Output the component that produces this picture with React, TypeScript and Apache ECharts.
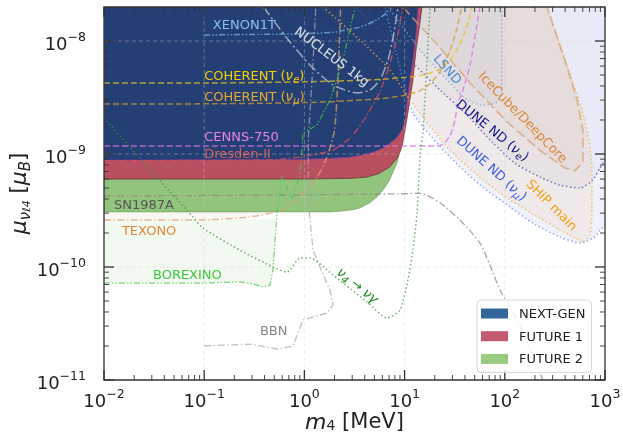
import React, { useEffect, useRef } from 'react';
import * as echarts from 'echarts';

const F = 'DejaVu Sans';
const X_MIN = 0.01, X_MAX = 1000, Y_MIN = 1e-11, Y_MAX = 2e-8;
const xMajor = [0.01, 0.1, 1, 10, 100, 1000];
const yMajor = [1e-11, 1e-10, 1e-9, 1e-8];

// sensitivity bands (mass MeV, magnetic moment muB)
const nextGen = [[0.01, 8.85e-10], [0.3, 8.9e-10], [1, 9.0e-10], [2, 9.2e-10], [2.85, 9.4e-10], [4, 9.9e-10], [5, 1.05e-9], [6.1, 1.13e-9], [7.2, 1.25e-9], [8.4, 1.41e-9], [9.4, 1.63e-9], [10.1, 2.0e-9], [10.6, 3.0e-9], [11.3, 4.5e-9], [12.1, 6.8e-9], [12.9, 1.1e-8], [13.6, 2e-8], [0.01, 2e-8]];
const future1 = [[0.01, 6.0e-10], [1, 6.0e-10], [3, 6.1e-10], [4.2, 6.25e-10], [5.5, 6.7e-10], [7.1, 7.67e-10], [8.6, 9.4e-10], [9.5, 1.2e-9], [10.1, 1.63e-9], [10.7, 2.2e-9], [11.3, 3.0e-9], [12.1, 4.5e-9], [13, 8.3e-9], [14, 1.3e-8], [14.9, 2e-8], [0.01, 2e-8]];
const future2 = [[0.01, 3.07e-10], [1.93, 3.07e-10], [3.0, 3.2e-10], [3.6, 3.33e-10], [4.5, 3.7e-10], [5.3, 4.16e-10], [6.2, 4.9e-10], [7.1, 5.9e-10], [8.4, 8.3e-10], [9.4, 1.25e-9], [10.0, 1.8e-9], [10.6, 3.0e-9], [11.5, 5.0e-9], [12.4, 1.0e-8], [13.9, 2e-8], [0.01, 2e-8]];

// existing limits / projections
const duneNuMu = [[6.4, 2e-8], [8.6, 6.8e-9], [12.1, 2.3e-9], [28.4, 9.4e-10], [60, 5.1e-10], [113, 3.4e-10], [190, 2.45e-10], [356, 1.84e-10], [564, 1.63e-10], [760, 1.8e-10], [890, 2.1e-10], [1000, 2.35e-10]];
const duneNuMuCorner = [[1000, 2e-8]];
const duneNuE = [[3.2, 2e-8], [6.37, 1.13e-8], [12.7, 6.1e-9], [22.6, 3.68e-9], [42, 2.21e-9], [76.3, 1.25e-9], [126, 8.3e-10], [224, 6.25e-10], [356, 5.3e-10], [564, 5.0e-10], [741, 5.8e-10], [891, 7.5e-10], [1000, 8.85e-10]];
const duneNuECorner = [[1000, 2e-8]];
const ship = [[1.53, 2e-8], [3.6, 1.02e-8], [7.2, 5.5e-9], [11.3, 3.0e-9], [28.4, 1.08e-9], [60.6, 5.9e-10], [113, 3.92e-10], [224, 2.71e-10], [356, 2.12e-10], [502, 1.81e-10], [603, 1.66e-10], [708, 1.92e-10], [741, 3.19e-10], [741, 7.2e-10], [692, 1.33e-9], [589, 2.45e-9], [469, 4.52e-9], [356, 9.2e-9], [264, 2e-8]];
const iceCube = [[9.6, 2e-8], [22.6, 8.7e-9], [45, 4.25e-9], [108, 1.88e-9], [224, 1.08e-9], [399, 7.5e-10], [502, 7.1e-10], [603, 8.5e-10], [603, 1.63e-9], [526, 3.0e-9], [428, 5.5e-9], [340, 1.02e-8], [264, 2e-8]];
const lsnd = [[6.8, 2e-8], [10.1, 1.25e-8], [14.3, 8.3e-9], [26.5, 4.52e-9], [42, 3.0e-9], [60.6, 2.71e-9], [83.7, 2.89e-9], [93.8, 3.84e-9], [93.8, 2e-8]];
const xenon1t = [[0.1, 1.13e-8], [1, 1.16e-8], [2, 1.2e-8], [3.5, 1.32e-8], [5, 1.5e-8], [6.5, 1.75e-8], [7.5, 2e-8]];
const nucleus = [[0.39, 2e-8], [0.67, 1.06e-8], [1.14, 6.1e-9], [1.93, 4.08e-9], [3.35, 3.47e-9], [4.52, 3.68e-9], [5.68, 4.52e-9], [6.83, 6.8e-9], [7.66, 1.06e-8], [8.6, 2e-8]];
const coherentNuE = [[0.01, 4.25e-9], [0.1, 4.25e-9], [1, 4.35e-9], [5, 4.55e-9], [10, 4.75e-9], [15.3, 5.0e-9], [22, 5.6e-9], [28, 6.6e-9], [34, 8.7e-9], [40, 1.2e-8], [44, 1.55e-8], [47, 2e-8]];
const coherentNuMu = [[0.01, 2.77e-9], [0.1, 2.78e-9], [1, 2.85e-9], [5, 3.05e-9], [10, 3.3e-9], [14, 3.6e-9], [18, 4.2e-9], [23, 5.5e-9], [28, 8e-9], [33, 1.25e-8], [37, 2e-8]];
const cenns750 = [[0.01, 1.18e-9], [10, 1.18e-9], [20, 1.18e-9], [22.6, 1.19e-9], [25, 1.25e-9], [28.4, 1.45e-9], [31.8, 2.0e-9], [34, 2.8e-9], [38.3, 3.7e-9], [45, 6.1e-9], [51.6, 1.25e-8], [56.5, 2e-8]];
const dresden = [[0.01, 8.7e-10], [0.5, 8.9e-10], [1.2, 9.8e-10], [2, 1.1e-9], [3, 1.45e-9], [4.2, 2.2e-9], [5.7, 3.6e-9], [7, 6e-9], [8.5, 1.1e-8], [9.5, 2e-8]];
const texono = [[0.01, 2.61e-10], [0.09, 2.61e-10], [0.286, 2.77e-10], [0.61, 3.19e-10], [0.9, 4.16e-10], [1.34, 6.25e-10], [1.68, 9.4e-10], [2.0, 1.63e-9], [2.16, 4.5e-9], [2.3, 2e-8]];
const texonoCorner = [[0.01, 2e-8]];
const sn1987a = [[0.01, 4.25e-10], [1, 4.35e-10], [10, 4.45e-10], [14.3, 4.5e-10], [22.6, 3.7e-10], [35.7, 2.61e-10], [56.5, 1.63e-10], [71, 1.04e-10], [89.6, 6.25e-11], [142, 3.07e-11], [240, 1e-11]];
const bbn = [[0.1, 2.0e-11], [0.286, 2.08e-11], [0.533, 1.88e-11], [0.77, 2.0e-11], [0.97, 3.4e-11], [1.14, 3.54e-11], [1.68, 3.92e-11], [1.93, 4.6e-11], [1.8, 6.25e-11], [1.43, 1.0e-10], [1.22, 1.41e-10], [1.12, 3e-10], [1.09, 5.9e-10], [1.1, 1.5e-9], [1.2, 5e-9], [1.3, 2e-8]];
const borexino = [[0.01, 7.2e-11], [0.09, 7.2e-11], [0.227, 7.4e-11], [0.307, 7.1e-11], [0.386, 6.65e-11], [0.454, 6.9e-11], [0.486, 9.4e-11], [0.51, 1.73e-10], [0.533, 3.0e-10], [0.597, 6.25e-10], [0.751, 4.0e-10], [0.904, 6.5e-10], [0.968, 1.53e-9], [1.34, 1.81e-9], [1.8, 3.0e-9], [2.43, 6.8e-9], [3.2, 2e-8]];
const borexinoRegion = [[0.01, 7.2e-11], [0.09, 7.2e-11], [0.227, 7.4e-11], [0.307, 7.1e-11], [0.386, 6.65e-11], [0.454, 6.9e-11], [0.486, 9.4e-11], [0.51, 1.73e-10], [0.52, 2.65e-10], [0.01, 2.61e-10]];
const nuDecay = [[0.01, 2.08e-9], [0.0338, 6.25e-10], [0.0773, 2.77e-10], [0.097, 2.21e-10], [0.227, 1.41e-10], [0.486, 1.0e-10], [0.67, 9.0e-11], [0.904, 1.2e-10], [1.14, 1.2e-10], [1.93, 8.5e-11], [4.22, 4.9e-11], [6.67, 3.54e-11], [9.0, 4.16e-11], [10.8, 7.7e-11], [12.1, 1.41e-10], [13.3, 3.0e-10], [14.3, 9.8e-10], [15.3, 1.63e-9], [17.9, 2e-8]];

const annotations: any[] = [
  { text: 'XENON1T', at: [0.122, 1.39e-8], color: '#86c0f2', align: 'left' },
  { text: 'NUCLEUS 1kg', at: [1.9, 7.3e-9], color: '#dfe2ec', rot: -0.646 },
  { text: 'COHERENT ({i|ν}{s|e})', at: [0.1, 5.0e-9], color: '#f5d000', align: 'left' },
  { text: 'COHERENT ({i|ν}{s|μ})', at: [0.1, 3.25e-9], color: '#e8aa30', align: 'left' },
  { text: 'CENNS-750', at: [0.1, 1.44e-9], color: '#ea82ea', align: 'left' },
  { text: 'Dresden-II', at: [0.1, 1.02e-9], color: '#d9605f', align: 'left' },
  { text: 'SN1987A', at: [0.0126, 3.61e-10], color: '#555555', align: 'left' },
  { text: 'TEXONO', at: [0.0151, 2.12e-10], color: '#e0883a', align: 'left' },
  { text: 'BOREXINO', at: [0.0308, 8.67e-11], color: '#3cc83c', align: 'left' },
  { text: 'BBN', at: [0.36, 2.77e-11], color: '#888888', align: 'left' },
  { text: '{i|ν}{s|4} → {i|νγ}', at: [3.43, 6.9e-11], color: '#168a16', rot: -0.68 },
  { text: 'LSND', at: [27, 5.65e-9], color: '#4a8cc8', rot: -0.84 },
  { text: 'IceCube/DeepCore', at: [152, 2.12e-9], color: '#d8893c', rot: -0.8 },
  { text: 'DUNE ND ({i|ν}{s|e})', at: [76, 1.63e-9], color: '#10108a', rot: -0.68 },
  { text: 'DUNE ND ({i|ν}{s|μ})', at: [74.5, 7.5e-10], color: '#3a60e0', rot: -0.73 },
  { text: 'SHiP main', at: [296, 3.54e-10], color: '#f5a010', rot: -0.785 },
];

function region(name: string, pts: number[][], fill: string, z: number, stroke?: string, lw?: number, legendColor?: string) {
  return {
    type: 'custom', name, coordinateSystem: 'cartesian2d', clip: true, silent: true, z,
    itemStyle: legendColor ? { color: legendColor } : undefined,
    data: [[pts[0][0], pts[0][1]]],
    renderItem: (_p: any, api: any) => ({
      type: 'polygon',
      shape: { points: pts.map((p) => api.coord(p)) },
      style: { fill, stroke: stroke || 'none', lineWidth: lw || 0 },
    }),
  };
}

function line(name: string, pts: number[][], color: string, dash: any, width = 1.5, smooth: any = 0.2) {
  return {
    type: 'line', name, data: pts, showSymbol: false, symbol: 'none', smooth, z: 6, silent: true, clip: true,
    lineStyle: { color, width, type: dash, opacity: 0.75 },
  };
}

const DOT = [1.5, 2.5];
const DASH = [6, 3];
const DASHDOT = [7, 2.5, 1.5, 2.5];
const DASHDOTDOT = [6, 2, 1.5, 2, 1.5, 2];
const LONGDASHDOT = [10, 3, 2, 3];

export default function App() {
  const ref = useRef<HTMLDivElement>(null);
  useEffect(() => {
    document.body.style.margin = '0';
    const chart = echarts.init(ref.current!, undefined, { renderer: 'svg' });
    const expFmt = (v: number) => {
      const l = Math.log10(v);
      const e = Math.round(l);
      if (Math.abs(l - e) > 1e-6) return '';
      return `{b|10}{e|${e < 0 ? '−' : ''}${Math.abs(e)}}`;
    };
    const labelRich = {
      b: { fontSize: 18, fontFamily: F, color: '#222', lineHeight: 22, verticalAlign: 'bottom' },
      e: { fontSize: 12.5, fontFamily: F, color: '#222', lineHeight: 22, verticalAlign: 'top' },
    };
    const annRich = {
      i: { fontSize: 13.5, fontFamily: F, fontStyle: 'italic', lineHeight: 18, verticalAlign: 'middle' },
      s: { fontSize: 10, fontFamily: F, fontStyle: 'italic', lineHeight: 18, verticalAlign: 'bottom' },
    };
    const overlay = {
      type: 'custom', name: 'frame', coordinateSystem: 'cartesian2d', silent: true, z: 15,
      data: [[1, 1e-10]],
      renderItem: (params: any, api: any) => {
        const cs = params.coordSys;
        const x0 = cs.x, y0 = cs.y, w = cs.width, h = cs.height;
        const kids: any[] = [];
        const gs = { stroke: 'rgba(205,205,205,0.4)', lineWidth: 1, lineDash: [4, 3], fill: 'none' };
        const ts = { stroke: '#333', lineWidth: 1.3, fill: 'none' };
        const ms = { stroke: '#333', lineWidth: 0.9, fill: 'none' };
        xMajor.forEach((v) => {
          const px = api.coord([v, Y_MIN])[0];
          if (px > x0 + 1 && px < x0 + w - 1) kids.push({ type: 'line', shape: { x1: px, y1: y0, x2: px, y2: y0 + h }, style: gs });
          kids.push({ type: 'line', shape: { x1: px, y1: y0 + h, x2: px, y2: y0 + h - 10 }, style: ts });
          kids.push({ type: 'line', shape: { x1: px, y1: y0, x2: px, y2: y0 + 10 }, style: ts });
          if (v < X_MAX) for (let k = 2; k <= 9; k++) {
            const mx = api.coord([v * k, Y_MIN])[0];
            kids.push({ type: 'line', shape: { x1: mx, y1: y0 + h, x2: mx, y2: y0 + h - 5 }, style: ms });
            kids.push({ type: 'line', shape: { x1: mx, y1: y0, x2: mx, y2: y0 + 5 }, style: ms });
          }
        });
        yMajor.forEach((v) => {
          const py = api.coord([X_MIN, v])[1];
          if (py > y0 + 1 && py < y0 + h - 1) kids.push({ type: 'line', shape: { x1: x0, y1: py, x2: x0 + w, y2: py }, style: gs });
          kids.push({ type: 'line', shape: { x1: x0, y1: py, x2: x0 + 10, y2: py }, style: ts });
          kids.push({ type: 'line', shape: { x1: x0 + w, y1: py, x2: x0 + w - 10, y2: py }, style: ts });
          for (let k = 2; k <= 9; k++) {
            if (v * k >= Y_MAX * 0.999) break;
            const my = api.coord([X_MIN, v * k])[1];
            kids.push({ type: 'line', shape: { x1: x0, y1: my, x2: x0 + 5, y2: my }, style: ms });
            kids.push({ type: 'line', shape: { x1: x0 + w, y1: my, x2: x0 + w - 5, y2: my }, style: ms });
          }
        });
        kids.push({ type: 'rect', shape: { x: x0, y: y0, width: w, height: h }, style: { fill: 'none', stroke: '#333', lineWidth: 1.3 } });
        return { type: 'group', children: kids };
      },
    };
    const labels = {
      type: 'custom', name: 'labels', coordinateSystem: 'cartesian2d', silent: true, z: 12,
      data: annotations.map((a, i) => [a.at[0], a.at[1], i]),
      renderItem: (_p: any, api: any) => {
        const a = annotations[api.value(2)];
        const p = api.coord([api.value(0), api.value(1)]);
        return {
          type: 'text', x: p[0], y: p[1], rotation: a.rot || 0,
          style: {
            text: a.text, fill: a.color, fontSize: 13, fontFamily: F, lineHeight: 18,
            align: a.align || 'center', verticalAlign: 'middle', rich: annRich,
          },
        };
      },
    };
    chart.setOption({
      animation: false,
      grid: { left: 104, right: 18, top: 7, bottom: 56, containLabel: false, outerBoundsMode: 'none' },
      xAxis: {
        type: 'log', logBase: 10, min: X_MIN, max: X_MAX,
        axisLine: { show: false }, axisTick: { show: false }, splitLine: { show: false },
        axisLabel: { formatter: expFmt, rich: labelRich, margin: 7 },
        name: '{m|m}{s|4} [MeV]', nameLocation: 'middle', nameGap: 30, nameMoveOverlap: false,
        nameTextStyle: {
          fontSize: 21, fontFamily: F, color: '#222', lineHeight: 22,
          rich: {
            m: { fontSize: 22, fontFamily: F, fontStyle: 'italic', color: '#222', lineHeight: 22, verticalAlign: 'middle' },
            s: { fontSize: 14, fontFamily: F, color: '#222', lineHeight: 22, verticalAlign: 'bottom' },
          },
        },
      },
      yAxis: {
        type: 'log', logBase: 10, min: Y_MIN, max: Y_MAX,
        axisLine: { show: false }, axisTick: { show: false }, splitLine: { show: false },
        axisLabel: { formatter: expFmt, rich: labelRich, margin: 18 },
        name: '{m|μ}{s|ν}{ss|ℓ4} [{m|μ}{s|B}]', nameLocation: 'middle', nameGap: 72, nameRotate: 90, nameMoveOverlap: false,
        nameTextStyle: {
          fontSize: 21, fontFamily: F, color: '#222',
          rich: {
            m: { fontSize: 22, fontFamily: F, fontStyle: 'italic', color: '#222', lineHeight: 24, verticalAlign: 'middle' },
            s: { fontSize: 15, fontFamily: F, fontStyle: 'italic', color: '#222', lineHeight: 24, verticalAlign: 'bottom' },
            ss: { fontSize: 11, fontFamily: F, fontStyle: 'italic', color: '#222', lineHeight: 28, verticalAlign: 'bottom' },
          },
        },
      },
      legend: {
        orient: 'vertical', left: 477, top: 300, z: 20,
        icon: 'rect', itemWidth: 27, itemHeight: 10, itemGap: 9.7,
        padding: [7, 6, 7, 4],
        backgroundColor: 'rgba(255,255,255,0.82)', borderColor: '#d6d6d6', borderWidth: 1, borderRadius: 4,
        textStyle: { fontSize: 13, fontFamily: F, color: '#222', padding: [0, 0, 0, 6] },
        data: [
          { name: 'NEXT-GEN', itemStyle: { color: '#336699' } },
          { name: 'FUTURE 1', itemStyle: { color: '#c45a70' } },
          { name: 'FUTURE 2', itemStyle: { color: '#99cc80' } },
        ],
      },
      series: [
        region('duneNuMuRegion', [...duneNuMu, ...duneNuMuCorner], 'rgba(100,120,220,0.10)', 1),
        region('shipRegion', ship, 'rgba(240,170,100,0.12)', 1),
        region('duneNuERegion', [...duneNuE, ...duneNuECorner], 'rgba(80,80,130,0.045)', 1),
        region('iceCubeRegion', iceCube, 'rgba(190,140,90,0.07)', 1),
        region('lsndRegion', lsnd, 'rgba(100,140,190,0.05)', 1),
        region('texonoRegion', [...texono, ...texonoCorner], 'rgba(210,180,140,0.12)', 1),
        region('borexinoRegion', borexinoRegion, 'rgba(120,200,120,0.10)', 1),
        region('FUTURE 2', future2, '#93c47d', 3, 'rgba(80,130,60,0.5)', 0.8, '#99cc80'),
        region('FUTURE 1', future1, '#b85060', 3, 'rgba(90,30,40,0.8)', 0.8, '#c45a70'),
        region('NEXT-GEN', nextGen, '#233f73', 3, 'rgba(110,60,160,0.9)', 1, '#336699'),
        line('DUNE ND (νμ)', duneNuMu, '#6a8ae8', DOT),
        line('SHiP main', ship, '#f5b040', DOT),
        line('DUNE ND (νe)', duneNuE, '#4a4ab0', DOT),
        line('IceCube/DeepCore', iceCube, '#d8a070', [10, 4], 1.6, false),
        line('LSND', lsnd, '#7aa6d0', DOT),
        line('XENON1T', xenon1t, '#7db4ea', DASHDOTDOT),
        line('NUCLEUS 1kg', nucleus, '#c8ccd8', LONGDASHDOT),
        line('COHERENT (νe)', coherentNuE, '#e8c020', DASH),
        line('COHERENT (νμ)', coherentNuMu, '#d09a30', DASH),
        line('CENNS-750', cenns750, '#e070e0', DASH),
        line('Dresden-II', dresden, '#d9505a', DASHDOT),
        line('TEXONO', texono, '#e0a070', DASHDOT),
        line('SN1987A', sn1987a, '#8a8a8a', DASHDOT, 1.3),
        line('BBN', bbn, '#aaaaaa', DASHDOT, 1.3, false),
        line('BOREXINO', borexino, '#50c850', DASHDOTDOT, 1.3, false),
        line('ν4 → νγ', nuDecay, '#3a9a3a', DOT),
        labels,
        overlay,
      ],
    } as any);
    return () => chart.dispose();
  }, []);
  return <div ref={ref} style={{ position: 'fixed', left: 0, top: 0, width: 623, height: 436 }} />;
}
